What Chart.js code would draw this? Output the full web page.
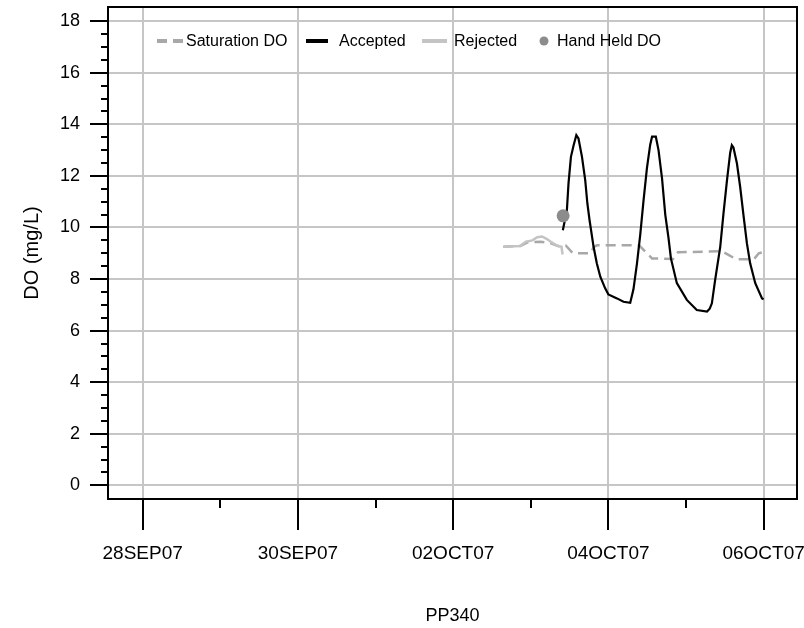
<!DOCTYPE html>
<html>
<head>
<meta charset="utf-8">
<title>PP340 DO</title>
<script src="https://cdn.jsdelivr.net/npm/chart.js@4.4.1/dist/chart.umd.min.js"></script>
<style>
  body { margin: 0; background: #fff; }
  #wrap { width: 804px; height: 628px; }
</style>
</head>
<body>
<div id="wrap"><canvas id="chart" width="804" height="628"></canvas></div>
<script>
// values (times are local clock, 2007)
const saturationTimes = ['2007-10-02 15:30', '2007-10-02 20:45', '2007-10-02 23:00', '2007-10-03 03:00', '2007-10-03 06:00',
    '2007-10-03 09:00', '2007-10-03 10:50', '2007-10-03 13:00', '2007-10-03 18:30', '2007-10-03 19:30', '2007-10-03 20:30',
    '2007-10-04 09:30', '2007-10-04 11:30', '2007-10-04 13:30', '2007-10-04 20:00', '2007-10-04 21:30', '2007-10-05 11:00',
    '2007-10-05 13:00', '2007-10-05 15:30', '2007-10-05 21:00', '2007-10-05 22:30', '2007-10-06 00:00'];
const saturationValues = [9.25, 9.28, 9.42, 9.45, 9.4, 9.25, 9.3, 9.0, 9.0, 9.25, 9.31,
    9.31, 9.05, 8.8, 8.78, 9.04, 9.08, 8.95, 8.77, 8.77, 9.0, 9.05];

const acceptedTimes = ['2007-10-03 09:55', '2007-10-03 11:10', '2007-10-03 11:40', '2007-10-03 12:25', '2007-10-03 13:15',
    '2007-10-03 14:05', '2007-10-03 14:45', '2007-10-03 15:50', '2007-10-03 16:50', '2007-10-03 17:30', '2007-10-03 18:10',
    '2007-10-03 19:25', '2007-10-03 20:25', '2007-10-03 21:30', '2007-10-03 23:00', '2007-10-04 00:00', '2007-10-04 02:40',
    '2007-10-04 04:40', '2007-10-04 06:45', '2007-10-04 07:45', '2007-10-04 08:50', '2007-10-04 09:50', '2007-10-04 10:50',
    '2007-10-04 11:55', '2007-10-04 12:55', '2007-10-04 13:30', '2007-10-04 14:40', '2007-10-04 15:30', '2007-10-04 16:35',
    '2007-10-04 17:35', '2007-10-04 18:35', '2007-10-04 19:20', '2007-10-04 21:10', '2007-10-05 00:15', '2007-10-05 03:20',
    '2007-10-05 06:30', '2007-10-05 07:20', '2007-10-05 08:00', '2007-10-05 09:00', '2007-10-05 10:35', '2007-10-05 11:35',
    '2007-10-05 12:40', '2007-10-05 13:40', '2007-10-05 14:10', '2007-10-05 14:40', '2007-10-05 15:45', '2007-10-05 16:45',
    '2007-10-05 17:50', '2007-10-05 18:50', '2007-10-05 19:50', '2007-10-05 21:25', '2007-10-05 23:30', '2007-10-06 00:00'];
const acceptedValues = [9.89, 10.67, 11.71, 12.74, 13.19,
    13.58, 13.45, 12.74, 11.84, 10.93, 10.29,
    9.25, 8.61, 8.09, 7.64, 7.4, 7.25,
    7.12, 7.08, 7.6, 8.6, 9.7, 11.0,
    12.3, 13.2, 13.52, 13.52, 13.0, 11.9,
    10.5, 9.6, 8.8, 7.84, 7.19, 6.8,
    6.74, 6.85, 7.06, 7.96, 9.25, 10.54,
    11.83, 12.9, 13.19, 13.1, 12.48, 11.57,
    10.41, 9.38, 8.61, 7.84, 7.25, 7.22];

const rejectedTimes = ['2007-10-02 15:30', '2007-10-02 20:40', '2007-10-02 22:30', '2007-10-03 00:30', '2007-10-03 02:00',
    '2007-10-03 03:30', '2007-10-03 05:00', '2007-10-03 06:30', '2007-10-03 08:00', '2007-10-03 09:30', '2007-10-03 09:50'];
const rejectedValues = [9.25, 9.28, 9.45, 9.5, 9.62, 9.65, 9.55, 9.42, 9.3, 9.25, 8.95];

const handHeldTimes = ['2007-10-03 10:00'];
const handHeldValues = [10.45];

const xTickDates = ['2007-09-28', '2007-09-30', '2007-10-02', '2007-10-04', '2007-10-06'];
const xTickLabels = ['28SEP07', '30SEP07', '02OCT07', '04OCT07', '06OCT07'];
const xMinorDates = ['2007-09-29', '2007-10-01', '2007-10-03', '2007-10-05'];
const yTickValues = [0, 2, 4, 6, 8, 10, 12, 14, 16, 18];

// x axis runs in days counted from 28SEP07 00:00
const dayZero = Date.UTC(2007, 8, 28);
function toDays(s) {
    const t = s.length > 10 ? s.replace(' ', 'T') + ':00Z' : s + 'T00:00:00Z';
    return (Date.parse(t) - dayZero) / 86400000;
}
function pairs(times, values) {
    return times.map((t, i) => ({ x: toDays(t), y: values[i] }));
}

const yMinor = [];
for (let v = 0.5; v < 18; v += 0.5) {
    if (v % 2 !== 0) yMinor.push(v);
}

const FONT = '"Liberation Sans", Arial, sans-serif';

const extras = {
    id: 'extras',
    afterDraw(chart) {
        const { ctx, chartArea: a, scales: { x, y } } = chart;
        ctx.save();
        ctx.strokeStyle = '#000';
        ctx.lineWidth = 2;
        ctx.setLineDash([]);
        ctx.beginPath();
        yMinor.forEach(v => {
            const p = Math.round(y.getPixelForValue(v));
            ctx.moveTo(a.left - 7, p);
            ctx.lineTo(a.left, p);
        });
        xMinorDates.forEach(d => {
            const p = Math.round(x.getPixelForValue(toDays(d)));
            ctx.moveTo(p, a.bottom);
            ctx.lineTo(p, a.bottom + 9);
        });
        ctx.stroke();
        ctx.strokeRect(a.left, a.top, a.right - a.left, a.bottom - a.top);

        // legend inside the plot
        const ds = chart.data.datasets;
        const ly = 41;
        const spots = [
            { x1: 157, x2: 183, tx: 186 },
            { x1: 306, x2: 328, tx: 339 },
            { x1: 422, x2: 447, tx: 454 },
            { x1: 544, x2: 544, tx: 557 }
        ];
        ctx.font = '16px ' + FONT;
        ctx.textBaseline = 'middle';
        ctx.fillStyle = '#000';
        ds.forEach((d, i) => {
            const s = spots[i];
            if (d.showLine === false) {
                ctx.fillStyle = d.backgroundColor;
                ctx.beginPath();
                ctx.arc(s.x1, ly, 4.5, 0, Math.PI * 2);
                ctx.fill();
            } else {
                ctx.strokeStyle = d.borderColor;
                ctx.lineWidth = 4;
                ctx.setLineDash(d.borderDash || []);
                ctx.beginPath();
                ctx.moveTo(s.x1, ly);
                ctx.lineTo(s.x2, ly);
                ctx.stroke();
                ctx.setLineDash([]);
            }
            ctx.fillStyle = '#000';
            ctx.fillText(d.label, s.tx, ly + 1);
        });
        ctx.restore();
    }
};

new Chart(document.getElementById('chart'), {
    type: 'line',
    data: {
        datasets: [
            {
                label: 'Saturation DO',
                data: pairs(saturationTimes, saturationValues),
                borderColor: '#a8a8a8',
                borderWidth: 2.5,
                borderDash: [10, 6],
                pointRadius: 0,
                order: 3
            },
            {
                label: 'Accepted',
                data: pairs(acceptedTimes, acceptedValues),
                borderColor: '#000000',
                borderWidth: 2.2,
                pointRadius: 0,
                order: 1
            },
            {
                label: 'Rejected',
                data: pairs(rejectedTimes, rejectedValues),
                borderColor: '#c4c4c4',
                borderWidth: 2.5,
                pointRadius: 0,
                order: 2
            },
            {
                label: 'Hand Held DO',
                data: pairs(handHeldTimes, handHeldValues),
                showLine: false,
                backgroundColor: '#8c8c8c',
                borderColor: '#8c8c8c',
                borderWidth: 0,
                pointRadius: 6.5,
                order: 0
            }
        ]
    },
    options: {
        responsive: false,
        animation: false,
        layout: { padding: { top: 7, right: 7, bottom: 0, left: 0 } },
        font: { family: FONT },
        plugins: {
            legend: { display: false },
            tooltip: { enabled: false }
        },
        scales: {
            x: {
                type: 'linear',
                min: -0.447,
                max: 8.43,
                afterBuildTicks: s => { s.ticks = xTickDates.map(d => ({ value: toDays(d) })); },
                afterFit: s => { s.height = 129; s.paddingLeft = 0; s.paddingRight = 0; },
                ticks: {
                    autoSkip: false,
                    maxRotation: 0,
                    padding: 12,
                    color: '#000',
                    font: { family: FONT, size: 19 },
                    callback: (v, i) => xTickLabels[i]
                },
                grid: {
                    color: '#c6c6c6',
                    lineWidth: 2,
                    tickColor: '#000',
                    tickWidth: 2,
                    tickLength: 31
                },
                border: { display: false },
                title: {
                    display: true,
                    text: 'PP340',
                    color: '#000',
                    font: { family: FONT, size: 18 },
                    padding: { top: 0, bottom: 1 }
                }
            },
            y: {
                type: 'linear',
                min: -0.53,
                max: 18.55,
                afterBuildTicks: s => { s.ticks = yTickValues.map(v => ({ value: v })); },
                afterFit: s => { s.width = 108; s.paddingTop = 0; s.paddingBottom = 0; },
                ticks: {
                    padding: 10,
                    color: '#000',
                    font: { family: FONT, size: 18 }
                },
                grid: {
                    color: '#c6c6c6',
                    lineWidth: 2,
                    tickColor: '#000',
                    tickWidth: 2,
                    tickLength: 18
                },
                border: { display: false },
                title: {
                    display: true,
                    text: 'DO (mg/L)',
                    color: '#000',
                    font: { family: FONT, size: 20 },
                    padding: { top: 20, bottom: 0 }
                }
            }
        }
    },
    plugins: [extras]
});
</script>
</body>
</html>
